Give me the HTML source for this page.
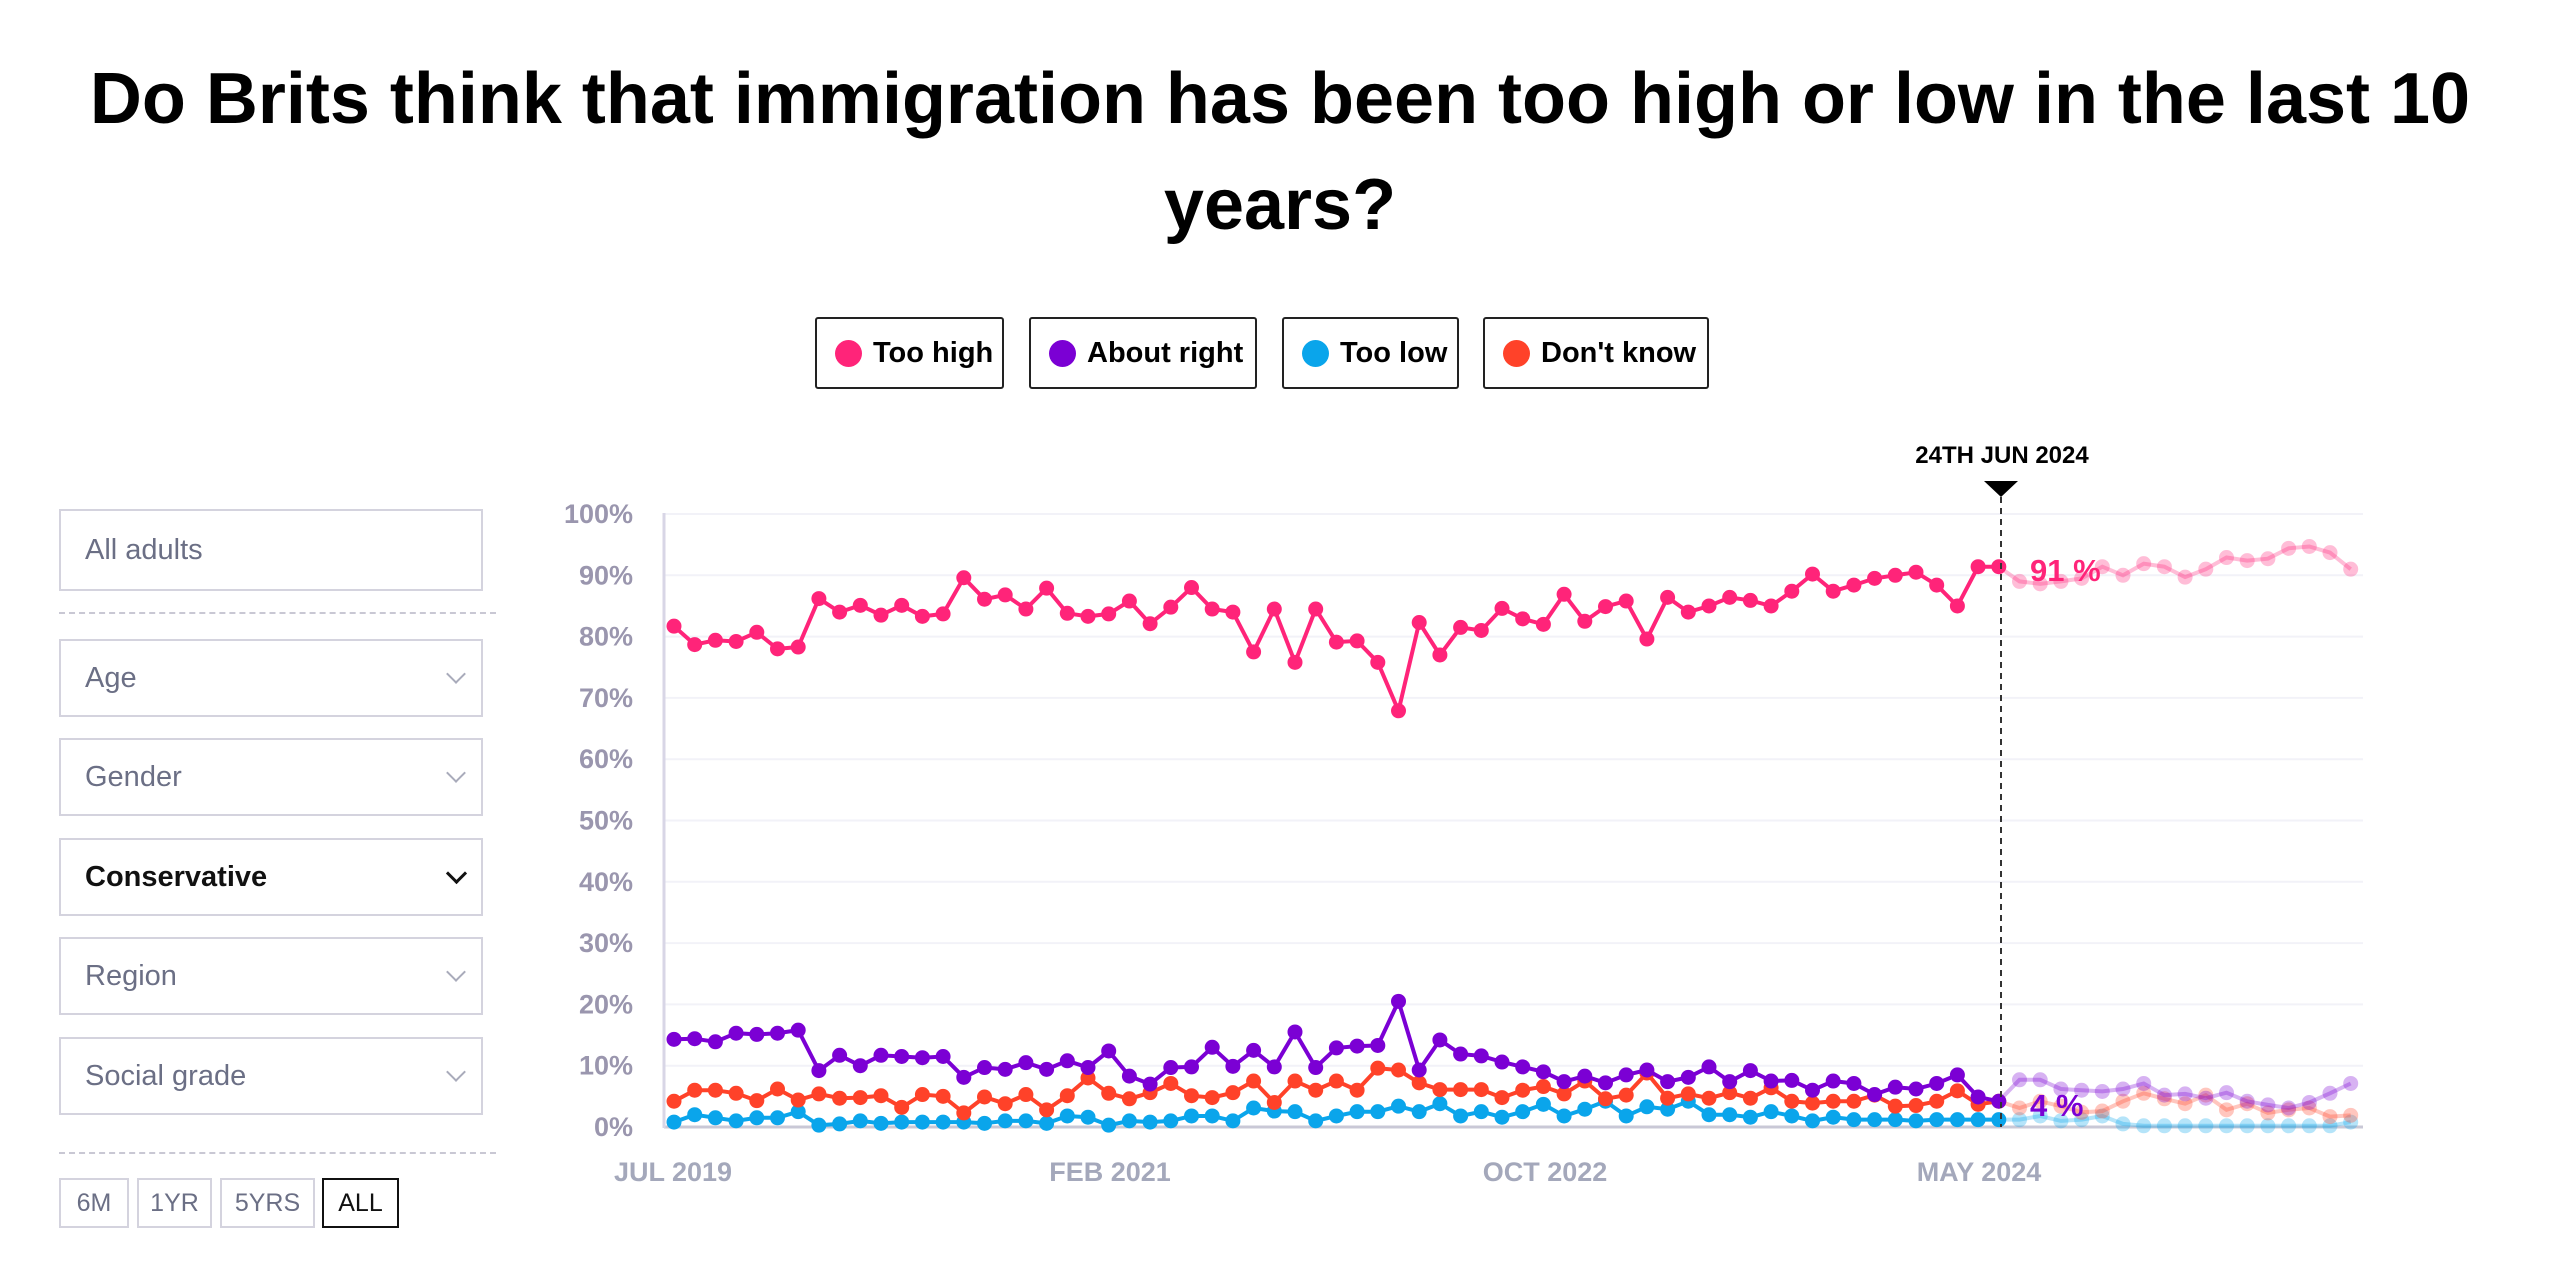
<!DOCTYPE html>
<html><head><meta charset="utf-8"><style>
body{margin:0;width:2560px;height:1287px;background:#fff;font-family:"Liberation Sans",sans-serif;position:relative;overflow:hidden}
.t{position:absolute;left:0;width:2560px;text-align:center;font-weight:bold;font-size:72px;color:#000}
.lg{position:absolute;top:317px;height:68px;border:2px solid #222;border-radius:3px;font-weight:bold;font-size:29px;line-height:68px;box-sizing:content-box}
.lg i{position:absolute;left:18px;top:21px;width:27px;height:27px;border-radius:50%}
.lg span{position:absolute;left:56px}
.bx{position:absolute;left:59px;width:420px;border:2px solid #d4d3de;font-size:29px;color:#6b6f85}
.bx span{position:absolute;left:24px}
.ch{position:absolute;left:388px;width:12px;height:12px;border-right:2px solid #a9abbb;border-bottom:2px solid #a9abbb;transform:rotate(45deg)}
.dash{position:absolute;left:59px;width:437px;border-top:2px dashed #c9c8d4}
.btn{position:absolute;top:1178px;height:46px;border:2px solid #d4d3de;font-size:25px;color:#6b6f85;text-align:center;line-height:46px}
</style></head><body>
<div class="t" style="top:58px">Do Brits think that immigration has been too high or low in the last 10</div>
<div class="t" style="top:164px">years?</div>
<div class="lg" style="left:815px;width:185px"><i style="background:#ff2479"></i><span>Too high</span></div>
<div class="lg" style="left:1029px;width:224px"><i style="background:#7b00d4"></i><span>About right</span></div>
<div class="lg" style="left:1282px;width:173px"><i style="background:#0aa5eb"></i><span>Too low</span></div>
<div class="lg" style="left:1483px;width:222px"><i style="background:#ff4229"></i><span>Don't know</span></div>

<div class="bx" style="top:509px;height:78px"><span style="top:23px">All adults</span></div>
<div class="dash" style="top:612px"></div>
<div class="bx" style="top:639px;height:74px"><span style="top:21px">Age</span><div class="ch" style="top:26px"></div></div>
<div class="bx" style="top:738px;height:74px"><span style="top:21px">Gender</span><div class="ch" style="top:26px"></div></div>
<div class="bx" style="top:838px;height:74px;color:#111;font-weight:bold"><span style="top:21px">Conservative</span><div class="ch" style="top:26px;border-color:#111;border-width:3px"></div></div>
<div class="bx" style="top:937px;height:74px"><span style="top:21px">Region</span><div class="ch" style="top:26px"></div></div>
<div class="bx" style="top:1037px;height:74px"><span style="top:21px">Social grade</span><div class="ch" style="top:26px"></div></div>
<div class="dash" style="top:1152px"></div>
<div class="btn" style="left:59px;width:66px">6M</div>
<div class="btn" style="left:137px;width:71px">1YR</div>
<div class="btn" style="left:220px;width:91px">5YRS</div>
<div class="btn" style="left:322px;width:73px;border-color:#111;color:#111">ALL</div>

<svg id="s" width="2560" height="1287" style="position:absolute;left:0;top:0" xmlns="http://www.w3.org/2000/svg"></svg>
<script>
var th=[81.7,78.7,79.4,79.2,80.7,78,78.3,86.2,84,85.1,83.5,85.1,83.3,83.7,89.6,86.1,86.8,84.5,87.9,83.8,83.3,83.7,85.8,82.1,84.8,88,84.5,84,77.5,84.5,75.8,84.5,79.1,79.3,75.8,67.9,82.3,77,81.5,81,84.6,82.9,82,86.9,82.5,84.9,85.8,79.6,86.4,84,85,86.4,85.9,85,87.4,90.2,87.4,88.4,89.5,90,90.5,88.4,85,91.4,91.4,89,88.6,89,89.5,91.4,90,91.9,91.4,89.7,91,92.9,92.4,92.7,94.4,94.7,93.7,91];
var ar=[14.3,14.4,13.9,15.3,15.1,15.3,15.8,9.2,11.7,10,11.7,11.5,11.3,11.5,8.1,9.7,9.4,10.5,9.4,10.8,9.7,12.4,8.3,7,9.7,9.8,13,9.9,12.5,9.8,15.5,9.7,12.9,13.2,13.3,20.5,9.3,14.2,11.9,11.6,10.6,9.8,9,7.4,8.3,7.2,8.5,9.3,7.4,8.1,9.8,7.4,9.2,7.5,7.6,6,7.5,7.1,5.3,6.5,6.2,7.1,8.5,4.9,4.2,7.7,7.7,6.2,6,5.8,6.2,7.1,5.2,5.4,4.7,5.6,4.2,3.6,3.1,4,5.5,7.1];
var dk=[4.2,6,6,5.5,4.3,6.2,4.4,5.4,4.7,4.8,5.1,3.2,5.3,5,2.3,4.9,3.8,5.3,2.8,5.1,8,5.5,4.6,5.6,7.1,5.1,4.8,5.6,7.5,4,7.5,6,7.5,6,9.6,9.3,7.2,6.1,6.1,6.1,4.8,6,6.6,5.4,7.5,4.6,5.2,8.8,4.7,5.4,4.7,5.6,4.7,6.4,4.2,3.9,4.2,4.2,5.2,3.4,3.5,4.2,5.9,3.7,4.2,3.1,4.2,3.4,2.4,2.6,4.2,5.5,4.6,3.8,5.2,2.8,3.8,2.3,2.8,3.1,1.7,1.9];
var tl=[0.8,2,1.5,1,1.5,1.5,2.5,0.3,0.5,1,0.6,0.8,0.8,0.8,0.8,0.6,1,1,0.6,1.8,1.6,0.3,1,0.8,1,1.8,1.8,1,3.1,2.6,2.5,1,1.8,2.5,2.5,3.4,2.5,3.8,1.8,2.5,1.6,2.5,3.7,1.8,2.9,4.2,1.8,3.3,2.9,4.2,2,2,1.6,2.5,1.8,1,1.6,1.2,1.2,1.2,1,1.2,1.2,1.2,1.2,1.2,1.8,1,1.2,1.8,0.5,0.2,0.2,0.2,0.2,0.2,0.2,0.2,0.2,0.2,0.2,0.8];
var X=function(i){return 674+i*20.7},Y=function(v){return 1127-v*6.13};
var h='';
for(var g=0;g<=10;g++){var y=Y(g*10);h+='<line x1="664" x2="2363" y1="'+y+'" y2="'+y+'" stroke="'+(g?'#f2f2f8':'#c9c8d6')+'" stroke-width="'+(g?2:3)+'"/>';
h+='<text x="633" y="'+(y+9)+'" text-anchor="end" font-family="Liberation Sans" font-weight="bold" font-size="27" fill="#9a96ae">'+(g*10)+'%</text>';}
h+='<line x1="664" x2="664" y1="513" y2="1128" stroke="#d8d6e6" stroke-width="3"/>';
[["JUL 2019",673],["FEB 2021",1110],["OCT 2022",1545],["MAY 2024",1979]].forEach(function(a){h+='<text x="'+a[1]+'" y="1181" text-anchor="middle" font-family="Liberation Sans" font-weight="bold" font-size="27" fill="#a4a8bb">'+a[0]+'</text>';});
function ser(d,c){var s='',p1='',p2='';d.forEach(function(v,i){var pt=X(i).toFixed(1)+','+Y(v).toFixed(1);if(i<=64)p1+=(i?'L':'M')+pt;if(i>=64)p2+=(i>64?'L':'M')+pt;});
s+='<path d="'+p2+'" fill="none" stroke="'+c+'" stroke-width="4" opacity="0.3"/>';
d.forEach(function(v,i){if(i>64)s+='<circle cx="'+X(i)+'" cy="'+Y(v)+'" r="7.5" fill="'+c+'" opacity="0.3"/>';});
s+='<path d="'+p1+'" fill="none" stroke="'+c+'" stroke-width="4"/>';
d.forEach(function(v,i){if(i<=64)s+='<circle cx="'+X(i)+'" cy="'+Y(v)+'" r="7.5" fill="'+c+'"/>';});return s;}
h+=ser(tl,'#0aa5eb')+ser(dk,'#ff4229')+ser(ar,'#7b00d4')+ser(th,'#ff2479');
h+='<line x1="2001" x2="2001" y1="497" y2="1127" stroke="#333" stroke-width="2" stroke-dasharray="6,5"/>';
h+='<polygon points="1984,481 2018,481 2001,497" fill="#000"/>';
h+='<text x="2002" y="463" text-anchor="middle" font-family="Liberation Sans" font-weight="bold" font-size="24" fill="#000">24TH JUN 2024</text>';
h+='<text x="2030" y="581" font-family="Liberation Sans" font-weight="bold" font-size="31" fill="#ff2479">91 %</text>';
h+='<text x="2030" y="1116" font-family="Liberation Sans" font-weight="bold" font-size="31" fill="#7b00d4">4 %</text>';
document.getElementById('s').innerHTML=h;
</script>
</body></html>
